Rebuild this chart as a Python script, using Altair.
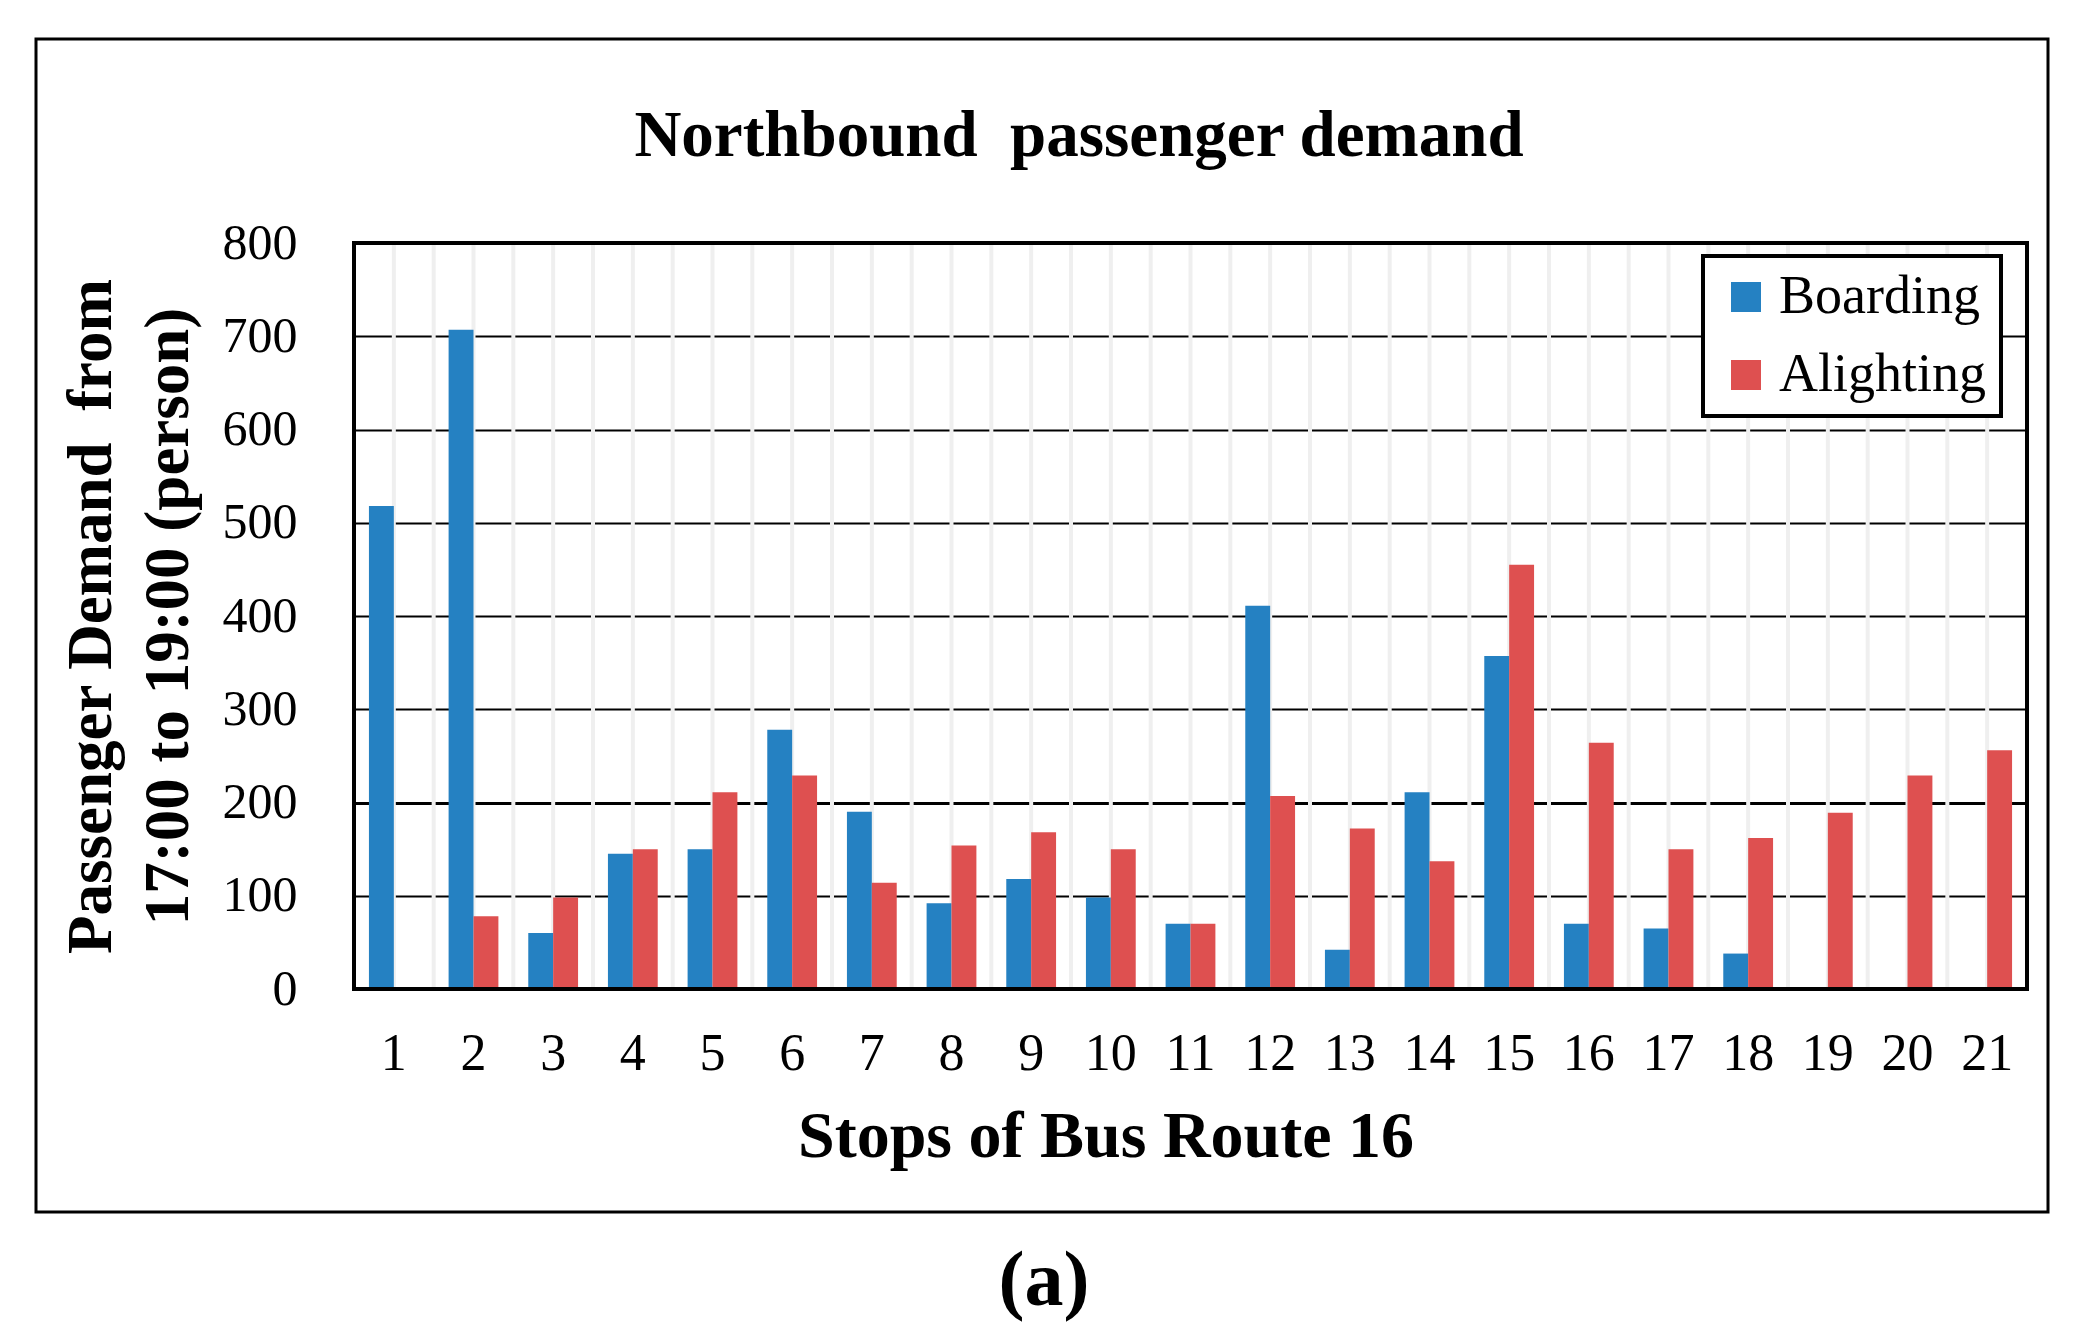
import altair as alt
import pandas as pd

# ---- data ----
STOPS = list(range(1, 22))
BOARDING = [518, 707, 60, 145, 150, 278, 190, 92, 118, 98, 70, 411, 42, 211, 357, 70, 65, 38, 0, 0, 0]
ALIGHTING = [0, 78, 98, 150, 211, 229, 114, 154, 168, 150, 70, 207, 172, 137, 455, 264, 150, 162, 189, 229, 256]
SERIES = ["Boarding", "Alighting"]
COLORS = ["#2581c2", "#de5050"]
Y_TICKS = list(range(0, 801, 100))

NB = "\u00a0"
TITLE = "Northbound" + NB + " passenger demand"
X_TITLE = "Stops of Bus Route 16"
Y_TITLE = ["Passenger Demand" + NB + " from", "17:00 to 19:00 (person)"]
CAPTION = "(a)"

rows = []
for s, b, a in zip(STOPS, BOARDING, ALIGHTING):
    rows.append({"stop": s, "type": "Boarding", "value": b})
    rows.append({"stop": s, "type": "Alighting", "value": a})
df = pd.DataFrame(rows)
stops_df = pd.DataFrame({"stop": STOPS})

W, H = 1673, 746
STEP = W / len(STOPS)
FONT = "Liberation Serif"

xenc = alt.X("stop:O", sort=STOPS,
             scale=alt.Scale(paddingInner=0.375, paddingOuter=0.1875),
             axis=alt.Axis(title=None, labelAngle=0, labelAlign="center", labelFont=FONT,
                           labelFontSize=52, labelColor="black", labelPadding=64, ticks=False,
                           domain=False, grid=False))

yenc = alt.Y("value:Q",
             scale=alt.Scale(domain=[0, 800], nice=False),
             axis=alt.Axis(values=Y_TICKS, grid=True, gridColor="black",
                           gridWidth={"condition": {"test": "datum.value === 200", "value": 3.2}, "value": 1.8},
                           ticks=False, domain=False, labelFont=FONT, labelFontSize=50,
                           labelColor="black", labelPadding=57,
                           title=Y_TITLE, titleFont=FONT, titleFontSize=63, titleFontWeight="bold",
                           titleColor="black", titleX=-244, titleY=H / 2, titleAngle=270,
                           titleAlign="center", titleBaseline="alphabetic", titleLineHeight=77))

one = pd.DataFrame({"k": [0]})

frame = alt.Chart(one).mark_rect(fill=None, stroke="black", strokeWidth=3).encode(
    x=alt.value(-318), x2=alt.value(1694), y=alt.value(-204), y2=alt.value(969))

center_rules = alt.Chart(stops_df).mark_rule(color="#efefef", strokeWidth=4).encode(
    x=alt.X("stop:O", sort=STOPS))
edge_rules = alt.Chart(stops_df).mark_rule(color="#efefef", strokeWidth=4, xOffset=-STEP / 2).encode(
    x=alt.X("stop:O", sort=STOPS))

bars = alt.Chart(df).mark_bar().encode(
    x=xenc,
    xOffset=alt.XOffset("type:N", sort=SERIES),
    y=yenc,
    color=alt.Color("type:N", sort=SERIES,
                    scale=alt.Scale(domain=SERIES, range=COLORS),
                    legend=alt.Legend(orient="none", legendX=1349, legendY=13, title=None,
                                      symbolType="square", symbolSize=900, symbolStrokeWidth=0,
                                      labelFont=FONT, labelFontSize=54, labelColor="black",
                                      labelOffset=6, rowPadding=24, padding=14, symbolOffset=2,
                                      labelLimit=500, fillColor="white", strokeColor="black")),
)

plot_border = alt.Chart(one).mark_rect(fill=None, stroke="black", strokeWidth=4).encode(
    x=alt.value(0), x2=alt.value(W), y=alt.value(0), y2=alt.value(H))

title = alt.Chart(pd.DataFrame({"t": [TITLE]})).mark_text(
    font=FONT, fontSize=65, fontWeight="bold", color="black", baseline="alphabetic",
    align="center").encode(text="t:N", x=alt.value(725), y=alt.value(-87))

xtitle = alt.Chart(pd.DataFrame({"t": [X_TITLE]})).mark_text(
    font=FONT, fontSize=66, fontWeight="bold", color="black", baseline="alphabetic",
    align="center").encode(text="t:N", x=alt.value(752), y=alt.value(H + 168))

caption = alt.Chart(pd.DataFrame({"t": [CAPTION]})).mark_text(
    font=FONT, fontSize=78, fontWeight="bold", color="black", baseline="alphabetic",
    align="center").encode(text="t:N", x=alt.value(690), y=alt.value(1062))

chart = alt.layer(frame, center_rules, edge_rules, bars, plot_border, title, xtitle, caption).properties(
    width=W, height=H,
    autosize=alt.AutoSizeParams(type="none"),
    padding={"left": 346, "top": 235, "right": 40, "bottom": 346},
).configure_view(stroke=None).configure_legend(strokeWidth=4)

chart.save("out.html", embed_options={"renderer": "svg", "actions": False})
